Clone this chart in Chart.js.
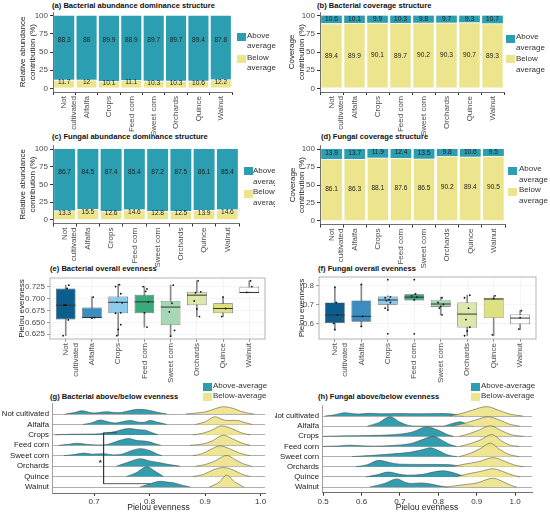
<!DOCTYPE html>
<html>
<head>
<meta charset="utf-8">
<script src="https://cdn.jsdelivr.net/npm/chart.js@4.4.1/dist/chart.umd.min.js"></script>
<style>
  body { margin: 0; width: 550px; height: 515px; position: relative; overflow: hidden; background: #fff;
         font-family: "Liberation Sans", Arial, sans-serif; }
  canvas { position: absolute; }
  .ttl { position: absolute; font-weight: bold; font-size: 7.6px; line-height: 10px; white-space: nowrap; color: #111; }
  .lg { position: absolute; font-size: 8px; line-height: 10.5px; white-space: nowrap; color: #333; }
  .sw { position: absolute; width: 8.5px; height: 8px; }
</style>
</head>
<body>

<div class="ttl" style="left:52px;top:1px">(a) Bacterial abundance dominance structure</div>
<div class="ttl" style="left:317px;top:1px">(b) Bacterial coverage structure</div>
<div class="ttl" style="left:52px;top:132px">(c) Fungal abundance dominance structure</div>
<div class="ttl" style="left:321px;top:132px">(d) Fungal coverage structure</div>
<div class="ttl" style="left:50px;top:264px">(e) Bacterial overall evenness</div>
<div class="ttl" style="left:318px;top:264px">(f) Fungal overall evenness</div>
<div class="ttl" style="left:50px;top:392px">(g) Bacterial above/below evenness</div>
<div class="ttl" style="left:318px;top:392px">(h) Fungal above/below evenness</div>

<canvas id="ca" width="275" height="135" style="left:0;top:0"></canvas>
<canvas id="cb" width="275" height="135" style="left:275px;top:0"></canvas>
<canvas id="cc" width="275" height="133" style="left:0;top:135px"></canvas>
<canvas id="cd" width="275" height="133" style="left:275px;top:135px"></canvas>
<canvas id="ce" width="275" height="115" style="left:0;top:268px"></canvas>
<canvas id="cf" width="275" height="115" style="left:275px;top:268px"></canvas>
<canvas id="cg" width="275" height="125" style="left:0;top:390px"></canvas>
<canvas id="ch" width="275" height="125" style="left:275px;top:390px"></canvas>

<!-- legends (a)-(d) -->
<div class="sw" style="left:237px;top:33px;background:#2B9EB1"></div>
<div class="lg" style="left:247px;top:30.5px">Above<br>average</div>
<div class="sw" style="left:237px;top:55px;background:#EDE58E"></div>
<div class="lg" style="left:247px;top:52.5px">Below<br>average</div>

<div class="sw" style="left:506px;top:35px;background:#2B9EB1"></div>
<div class="lg" style="left:516px;top:32px">Above<br>average</div>
<div class="sw" style="left:506px;top:55px;background:#EDE58E"></div>
<div class="lg" style="left:516px;top:54px">Below<br>average</div>

<div class="sw" style="left:244px;top:167px;background:#2B9EB1"></div>
<div class="lg" style="left:253px;top:166px;width:22px;overflow:hidden">Above<br>average</div>
<div class="sw" style="left:244px;top:190px;background:#EDE58E"></div>
<div class="lg" style="left:253px;top:187px;width:22px;overflow:hidden">Below<br>average</div>

<div class="sw" style="left:508px;top:167px;background:#2B9EB1"></div>
<div class="lg" style="left:519px;top:164px">Above<br>average</div>
<div class="sw" style="left:508px;top:188px;background:#EDE58E"></div>
<div class="lg" style="left:519px;top:185px">Below<br>average</div>

<!-- legends (g), (h) -->
<div class="sw" style="left:203px;top:383px;background:#2B9EB1"></div>
<div class="lg" style="left:213px;top:381px">Above-average</div>
<div class="sw" style="left:203px;top:393px;background:#EDE58E"></div>
<div class="lg" style="left:213px;top:391px">Below-average</div>

<div class="sw" style="left:471px;top:383px;background:#2B9EB1"></div>
<div class="lg" style="left:481px;top:381px">Above-average</div>
<div class="sw" style="left:471px;top:393px;background:#EDE58E"></div>
<div class="lg" style="left:481px;top:391px">Below-average</div>

<script>
// --- Data ---
const categories = ["Not cultivated", "Alfalfa", "Crops", "Feed corn", "Sweet corn", "Orchards", "Quince", "Walnut"];
const xTickLabels = [["Not", "cultivated"], "Alfalfa", "Crops", "Feed corn", "Sweet corn", "Orchards", "Quince", "Walnut"];
const pctTicks = [0, 25, 50, 75, 100];

// (a) bacterial abundance
const aBelow = [11.7, 12, 10.1, 11.1, 10.3, 10.3, 10.6, 12.2];
const aAbove = [88.3, 88, 89.9, 88.9, 89.7, 89.7, 89.4, 87.8];
// (b) bacterial coverage
const bBelow = [89.4, 89.9, 90.1, 89.7, 90.2, 90.3, 90.7, 89.3];
const bAbove = [10.6, 10.1, 9.9, 10.3, 9.8, 9.7, 9.3, 10.7];
// (c) fungal abundance
const cBelow = [13.3, 15.5, 12.6, 14.6, 12.8, 12.5, 13.9, 14.6];
const cAbove = [86.7, 84.5, 87.4, 85.4, 87.2, 87.5, 86.1, 85.4];
// (d) fungal coverage
const dBelow = [86.1, 86.3, 88.1, 87.6, 86.5, 90.2, 89.4, 90.5];
const dAbove = [13.9, 13.7, 11.9, 12.4, 13.5, 9.8, 10.6, 9.5];

// (e) bacterial overall evenness (box stats)
const eLow = [0.622, 0.659, 0.622, 0.640, 0.621, 0.662, 0.662, 0.7125];
const eQ1 = [0.656, 0.659, 0.669, 0.669, 0.644, 0.686, 0.669, 0.7125];
const eMed = [0.686, 0.660, 0.692, 0.693, 0.682, 0.707, 0.679, 0.7125];
const eQ3 = [0.721, 0.681, 0.704, 0.708, 0.695, 0.714, 0.690, 0.7245];
const eHigh = [0.728, 0.7035, 0.730, 0.725, 0.728, 0.737, 0.7035, 0.737];
const eTicks = [0.625, 0.65, 0.675, 0.7, 0.725];
const ePoints = [
  [[0.12, 0.728], [0.05, 0.721], [0.0, 0.686], [-0.06, 0.686], [0.1, 0.655], [-0.1, 0.622]],
  [[0.05, 0.703], [0.1, 0.66], [0.0, 0.659]],
  [[0.05, 0.729], [-0.1, 0.725], [0.1, 0.71], [-0.05, 0.692], [0.15, 0.691], [0.1, 0.67], [-0.1, 0.669], [0.1, 0.645], [0.0, 0.635], [-0.05, 0.622]],
  [[-0.05, 0.725], [0.1, 0.72], [0.05, 0.715], [0.15, 0.693], [0.0, 0.67], [0.1, 0.64]],
  [[0.1, 0.728], [0.05, 0.69], [-0.05, 0.672], [0.15, 0.633], [0.0, 0.621]],
  [[0.05, 0.737], [0.15, 0.714], [-0.05, 0.712], [-0.1, 0.695], [0.0, 0.678], [0.1, 0.662]],
  [[0.0, 0.703], [0.1, 0.679], [-0.05, 0.662]],
  [[0.05, 0.737], [0.1, 0.725], [-0.1, 0.713]]
];

// (f) fungal overall evenness (box stats)
const fLow = [0.567, 0.584, 0.670, 0.720, 0.644, 0.535, 0.535, 0.567];
const fQ1 = [0.602, 0.609, 0.698, 0.721, 0.686, 0.579, 0.628, 0.596];
const fMed = [0.644, 0.637, 0.723, 0.738, 0.702, 0.649, 0.728, 0.628];
const fQ3 = [0.7105, 0.721, 0.742, 0.753, 0.725, 0.7105, 0.735, 0.647];
const fHigh = [0.789, 0.805, 0.745, 0.755, 0.738, 0.748, 0.745, 0.667];
const fTicks = [0.6, 0.7, 0.8];
const fPoints = [
  [[0.0, 0.79], [0.05, 0.71], [0.1, 0.645], [-0.05, 0.60], [0.0, 0.567]],
  [[0.0, 0.805], [0.05, 0.637], [0.0, 0.584]],
  [[0.0, 0.83], [0.1, 0.74], [-0.1, 0.735], [0.05, 0.725], [-0.05, 0.72], [0.1, 0.71], [-0.1, 0.68], [0.0, 0.67], [0.0, 0.545]],
  [[0.0, 0.83], [0.05, 0.755], [-0.1, 0.745], [0.1, 0.738], [0.0, 0.725], [0.0, 0.545]],
  [[0.05, 0.735], [-0.1, 0.71], [0.1, 0.70], [0.0, 0.69], [-0.05, 0.68], [0.05, 0.645]],
  [[0.1, 0.748], [-0.1, 0.735], [0.05, 0.68], [-0.05, 0.62], [0.1, 0.58], [0.0, 0.56], [-0.1, 0.535]],
  [[0.05, 0.745], [0.0, 0.73], [-0.05, 0.54]],
  [[0.05, 0.667], [0.0, 0.63], [-0.05, 0.57]]
];

// (g) bacterial ridges: [evenness, density height in row units], one curve per category
const gAbove = [
  [[0.648, 0], [0.665, 0.15], [0.678, 0.32], [0.690, 0.18], [0.700, 0.1], [0.712, 0.17], [0.723, 0.22], [0.735, 0.15], [0.745, 0.13], [0.762, 0.3], [0.780, 0.45], [0.800, 0.35], [0.815, 0.15], [0.831, 0]],
  [[0.680, 0], [0.695, 0.15], [0.711, 0.42], [0.725, 0.25], [0.738, 0.13], [0.750, 0.25], [0.765, 0.39], [0.780, 0.22], [0.789, 0.2], [0.801, 0.39], [0.815, 0.2], [0.831, 0]],
  [[0.630, 0], [0.660, 0.06], [0.700, 0.08], [0.720, 0.15], [0.740, 0.35], [0.762, 0.6], [0.780, 0.5], [0.792, 0.45], [0.805, 0.2], [0.815, 0]],
  [[0.636, 0], [0.655, 0.1], [0.669, 0.19], [0.685, 0.1], [0.705, 0.03], [0.725, 0.1], [0.745, 0.45], [0.762, 0.65], [0.778, 0.45], [0.795, 0.38], [0.810, 0.15], [0.820, 0]],
  [[0.645, 0], [0.665, 0.12], [0.681, 0.25], [0.697, 0.15], [0.717, 0.2], [0.735, 0.08], [0.750, 0.15], [0.768, 0.5], [0.783, 0.68], [0.800, 0.5], [0.812, 0.2], [0.822, 0]],
  [[0.740, 0], [0.760, 0.35], [0.783, 0.71], [0.800, 0.5], [0.819, 0.32], [0.835, 0.15], [0.855, 0]],
  [[0.758, 0], [0.775, 0.35], [0.795, 0.94], [0.810, 0.5], [0.825, 0]],
  [[0.783, 0], [0.800, 0.3], [0.819, 0.55], [0.835, 0.45], [0.845, 0.38], [0.860, 0.15], [0.873, 0]]
];
const gBelow = [
  [[0.865, 0], [0.885, 0.1], [0.900, 0.2], [0.915, 0.45], [0.933, 0.7], [0.950, 0.55], [0.965, 0.25], [0.978, 0.08], [0.988, 0]],
  [[0.883, 0], [0.900, 0.25], [0.918, 0.74], [0.930, 0.5], [0.940, 0.38], [0.957, 0.39], [0.970, 0.2], [0.985, 0]],
  [[0.878, 0], [0.895, 0.15], [0.912, 0.45], [0.930, 0.87], [0.948, 0.6], [0.965, 0.2], [0.981, 0]],
  [[0.873, 0], [0.895, 0.12], [0.912, 0.4], [0.933, 0.97], [0.950, 0.6], [0.967, 0.2], [0.981, 0]],
  [[0.878, 0], [0.895, 0.2], [0.910, 0.6], [0.927, 0.94], [0.945, 0.65], [0.962, 0.25], [0.981, 0]],
  [[0.883, 0], [0.900, 0.15], [0.918, 0.5], [0.939, 1.03], [0.955, 0.6], [0.970, 0.2], [0.984, 0]],
  [[0.878, 0], [0.897, 0.2], [0.915, 0.65], [0.933, 0.87], [0.950, 0.65], [0.965, 0.25], [0.981, 0]],
  [[0.908, 0], [0.925, 0.45], [0.939, 1.13], [0.953, 0.5], [0.970, 0]]
];
const gTicks = [0.7, 0.8, 0.9, 1.0];
// significance bracket in (g): [evenness, row position]
const gBracket = [[0.741, 5.2], [0.717, 5.2], [0.717, 0.32], [0.801, 0.32]];
const gStar = [0.711, 2.5];

// (h) fungal ridges
const hAbove = [
  [[0.505, 0], [0.530, 0.12], [0.557, 0.33], [0.580, 0.22], [0.595, 0.2], [0.622, 0.27], [0.650, 0.22], [0.700, 0.25], [0.750, 0.22], [0.800, 0.25], [0.830, 0.22], [0.850, 0.12], [0.865, 0]],
  [[0.615, 0], [0.645, 0.35], [0.674, 0.93], [0.700, 0.4], [0.720, 0.1], [0.740, 0], [0.810, 0], [0.835, 0.25], [0.857, 0.43], [0.875, 0.2], [0.892, 0]],
  [[0.500, 0], [0.560, 0.05], [0.620, 0.08], [0.680, 0.15], [0.730, 0.4], [0.770, 0.93], [0.800, 0.6], [0.825, 0.15], [0.840, 0]],
  [[0.500, 0], [0.540, 0.05], [0.570, 0.13], [0.600, 0.06], [0.630, 0.03], [0.680, 0.1], [0.730, 0.3], [0.760, 0.7], [0.787, 1.0], [0.810, 0.6], [0.830, 0.2], [0.848, 0]],
  [[0.575, 0], [0.620, 0.1], [0.683, 0.27], [0.730, 0.45], [0.760, 0.7], [0.779, 0.87], [0.800, 0.6], [0.825, 0.15], [0.848, 0]],
  [[0.585, 0], [0.615, 0.2], [0.645, 0.63], [0.675, 0.4], [0.700, 0.25], [0.750, 0.23], [0.800, 0.22], [0.830, 0.2], [0.850, 0.1], [0.865, 0]],
  [[0.612, 0], [0.640, 0.2], [0.670, 0.47], [0.700, 0.25], [0.720, 0.17], [0.760, 0.25], [0.790, 0.5], [0.813, 0.6], [0.840, 0.4], [0.860, 0.15], [0.874, 0]],
  [[0.622, 0], [0.660, 0.35], [0.692, 0.8], [0.715, 0.45], [0.730, 0.35], [0.753, 0.4], [0.780, 0.3], [0.805, 0.1], [0.823, 0]]
];
const hBelow = [
  [[0.830, 0], [0.860, 0.25], [0.890, 0.6], [0.926, 0.93], [0.955, 0.6], [0.985, 0.2], [1.020, 0]],
  [[0.835, 0], [0.870, 0.3], [0.900, 0.65], [0.930, 0.93], [0.960, 0.6], [0.985, 0.2], [1.012, 0]],
  [[0.855, 0], [0.880, 0.25], [0.905, 0.6], [0.935, 1.03], [0.965, 0.55], [0.990, 0.15], [1.022, 0]],
  [[0.855, 0], [0.885, 0.3], [0.910, 0.65], [0.939, 1.17], [0.965, 0.55], [0.985, 0.15], [1.010, 0]],
  [[0.855, 0], [0.885, 0.35], [0.910, 0.8], [0.935, 1.33], [0.960, 0.7], [0.985, 0.2], [1.010, 0]],
  [[0.835, 0], [0.870, 0.27], [0.905, 0.5], [0.943, 0.9], [0.975, 0.5], [1.000, 0.15], [1.022, 0]],
  [[0.845, 0], [0.874, 0.27], [0.905, 0.5], [0.943, 0.8], [0.970, 0.5], [0.995, 0.15], [1.013, 0]],
  [[0.820, 0], [0.860, 0.2], [0.900, 0.4], [0.943, 0.87], [0.970, 0.5], [0.990, 0.15], [1.004, 0]]
];
const hTicks = [0.5, 0.6, 0.7, 0.8, 0.9, 1.0];

// --- Styles ---
const TEAL = "#2B9EB1";
const YELLOW = "#EDE58E";
const RIDGE_TEAL = "rgba(38,152,170,0.95)";
const RIDGE_YELLOW = "rgba(236,226,128,0.85)";
const boxColors = ["#0D5E8C", "#3D8CC0", "#8DCBEA", "#3AA97B", "#A7D8B5", "#DCE7AB", "#DEE17F", "#FFFFFF"];

Chart.defaults.font.family = '"Liberation Sans", Arial, sans-serif';
Chart.defaults.font.size = 8;
Chart.defaults.color = "#4d4d4d";
Chart.defaults.animation = false;
Chart.defaults.responsive = false;
Chart.defaults.plugins.legend.display = false;
Chart.defaults.plugins.tooltip.enabled = false;

// value labels inside stacked bar segments
const segLabels = {
  id: "segLabels",
  afterDatasetsDraw(chart, args, opts) {
    const ctx = chart.ctx, y = chart.scales.y;
    ctx.save();
    ctx.font = '6.6px "Liberation Sans", Arial, sans-serif';
    ctx.fillStyle = "#222";
    ctx.textAlign = "center";
    ctx.textBaseline = "middle";
    chart.data.datasets.forEach((ds, di) => {
      chart.getDatasetMeta(di).data.forEach((bar, i) => {
        const base = di === 0 ? 0 : chart.data.datasets[0].data[i];
        const pos = base + ds.data[i] * opts.fracs[di];
        ctx.fillText(String(ds.data[i]), bar.x, y.getPixelForValue(pos));
      });
    });
    ctx.restore();
  }
};

// grey panel border for the box plots
const frame = {
  id: "frame",
  afterDraw(chart) {
    const { ctx, chartArea: a } = chart;
    ctx.save();
    ctx.strokeStyle = "#a0a0a0";
    ctx.lineWidth = 0.8;
    ctx.strokeRect(a.left, a.top, a.right - a.left, a.bottom - a.top);
    ctx.restore();
  }
};

// text mark (asterisk) placed through the scales
const starMark = {
  id: "starMark",
  afterDatasetsDraw(chart, args, opts) {
    if (!opts.at) return;
    const ctx = chart.ctx;
    ctx.save();
    ctx.font = 'bold 8px "Liberation Sans", Arial, sans-serif';
    ctx.fillStyle = "#222";
    ctx.textAlign = "center";
    ctx.textBaseline = "middle";
    ctx.fillText("*", chart.scales.x.getPixelForValue(opts.at[0]), chart.scales.y.getPixelForValue(opts.at[1]) + 1.5);
    ctx.restore();
  }
};

// --- Functions ---

function barPanel(id, below, above, yTitle, box, fracs, titlePad) {
  const cv = document.getElementById(id);
  const W = cv.width, H = cv.height;
  new Chart(cv, {
    type: "bar",
    data: {
      labels: xTickLabels,
      datasets: [
        { data: below, backgroundColor: YELLOW, borderColor: "#fff", borderWidth: { top: 0.8 }, borderSkipped: false,
          categoryPercentage: 0.9, barPercentage: 1 },
        { data: above, backgroundColor: TEAL, categoryPercentage: 0.9, barPercentage: 1 }
      ]
    },
    options: {
      layout: { autoPadding: false, padding: { left: 0, right: W - box.r, top: box.t, bottom: 0 } },
      plugins: { segLabels: { fracs } },
      scales: {
        x: {
          stacked: true,
          grid: { drawOnChartArea: false, tickLength: 3, tickColor: "#333" },
          border: { color: "#333", width: 0.7 },
          ticks: { minRotation: 90, maxRotation: 90, autoSkip: false, padding: 1 },
          afterFit: s => { s.height = H - box.b; }
        },
        y: {
          stacked: true, min: -5, max: 105,
          afterBuildTicks: s => { s.ticks = pctTicks.map(v => ({ value: v })); },
          grid: { drawOnChartArea: false, tickLength: 3, tickColor: "#333" },
          border: { color: "#333", width: 0.7 },
          ticks: { padding: 2 },
          title: { display: true, text: yTitle, color: "#222", font: { size: 8 }, padding: { top: titlePad } },
          afterFit: s => { s.width = box.l; }
        }
      }
    },
    plugins: [segLabels]
  });
}

function boxPanel(id, lo, q1, med, q3, hi, pts, yr, yTicks, digits, box, titlePad) {
  const cv = document.getElementById(id);
  const W = cv.width, H = cv.height;
  const idx = categories.map((c, i) => i);
  const dots = [];
  pts.forEach((list, i) => list.forEach(([off, v]) => dots.push({ x: i + off, y: v })));
  new Chart(cv, {
    type: "bar",
    data: {
      datasets: [
        { type: "scatter", data: dots, pointRadius: 0.9, pointBackgroundColor: "#111", pointBorderWidth: 0, order: 0 },
        { type: "scatter", data: idx.map(i => ({ x: i, y: med[i] })), pointStyle: "line", pointRadius: 9.8,
          borderColor: "#333", pointBorderColor: "#333", pointBorderWidth: 1, order: 1 },
        { type: "bar", data: idx.map(i => ({ x: i, y: [q1[i], q3[i]] })), backgroundColor: boxColors,
          borderColor: "#555", borderWidth: 0.7, borderSkipped: false, grouped: false,
          categoryPercentage: 1, barPercentage: 0.75, order: 2 },
        { type: "bar", data: idx.map(i => ({ x: i, y: [lo[i], hi[i]] })), backgroundColor: "#8a8a8a",
          barThickness: 1, grouped: false, order: 3 }
      ]
    },
    options: {
      layout: { autoPadding: false, padding: { left: 0, right: W - box.r, top: box.t, bottom: 0 } },
      scales: {
        x: {
          type: "linear", min: -0.6, max: 7.6, offset: false,
          afterBuildTicks: s => { s.ticks = idx.map(v => ({ value: v })); },
          grid: { color: "#efefef", lineWidth: 0.6, offset: false, tickLength: 3, tickColor: "#555" },
          border: { display: false },
          ticks: { minRotation: 90, maxRotation: 90, autoSkip: false, padding: 1, callback: v => xTickLabels[v] },
          afterFit: s => { s.height = H - box.b; }
        },
        y: {
          min: yr[0], max: yr[1],
          afterBuildTicks: s => { s.ticks = yTicks.map(v => ({ value: v })); },
          grid: { color: "#efefef", lineWidth: 0.6, tickLength: 3, tickColor: "#555" },
          border: { display: false },
          ticks: { padding: 2, autoSkip: false, callback: v => v.toFixed(digits) },
          title: { display: true, text: "Pielou evenness", color: "#222", font: { size: 8 }, padding: { top: titlePad } },
          afterFit: s => { s.width = box.l; }
        }
      }
    },
    plugins: [frame]
  });
}

function ridgePanel(id, above, below, xr, yr, xTicks, box, bracket, star) {
  const cv = document.getElementById(id);
  const W = cv.width, H = cv.height;
  const n = categories.length;
  const datasets = [];
  categories.forEach((c, i) => {
    const base = n - 1 - i;
    datasets.push({
      data: above[i].map(p => ({ x: p[0], y: base + p[1] })),
      fill: { value: base }, backgroundColor: RIDGE_TEAL, borderColor: "#4a4a4a", borderWidth: 0.6,
      pointRadius: 0, cubicInterpolationMode: "monotone", order: base * 2 + 1
    });
    datasets.push({
      data: below[i].map(p => ({ x: p[0], y: base + p[1] })),
      fill: { value: base }, backgroundColor: RIDGE_YELLOW, borderColor: "#5a5a4a", borderWidth: 0.6,
      pointRadius: 0, cubicInterpolationMode: "monotone", order: base * 2
    });
  });
  if (bracket) {
    datasets.push({ data: bracket.map(p => ({ x: p[0], y: p[1] })), borderColor: "#333", borderWidth: 0.8,
      pointRadius: 0, fill: false, tension: 0, order: -1 });
  }
  new Chart(cv, {
    type: "line",
    data: { datasets },
    options: {
      layout: { autoPadding: false, padding: { left: 0, right: W - box.r, top: box.t, bottom: 0 } },
      plugins: { starMark: { at: star } },
      scales: {
        x: {
          type: "linear", min: xr[0], max: xr[1],
          afterBuildTicks: s => { s.ticks = xTicks.map(v => ({ value: v })); },
          grid: { drawOnChartArea: false, tickLength: 3, tickColor: "#333" },
          border: { color: "#333", width: 0.7 },
          ticks: { padding: 1, color: "#333", autoSkip: false, callback: v => v.toFixed(1) },
          title: { display: true, text: "Pielou evenness", color: "#222", font: { size: 8.5 }, padding: { top: 0, bottom: 2 } },
          afterFit: s => { s.height = H - box.b; }
        },
        y: {
          type: "linear", min: yr[0], max: yr[1],
          afterBuildTicks: s => { s.ticks = categories.map((c, i) => ({ value: i })); },
          grid: { color: "#7a7a7a", lineWidth: 0.6, drawTicks: false },
          border: { color: "#777", width: 0.7 },
          ticks: { padding: 3, autoSkip: false, color: "#1a1a1a", font: { size: 7.8 }, callback: v => categories[n - 1 - v] },
          afterFit: s => { s.width = box.l; }
        }
      }
    },
    plugins: [starMark]
  });
}

// --- Panels ---
barPanel("ca", aBelow, aAbove, ["Relative abundance", "contribution (%)"], { l: 53, r: 232, t: 12, b: 92 }, [0.72, 0.62], 18);
barPanel("cb", bBelow, bAbove, ["Coverage", "contribution (%)"], { l: 45, r: 229, t: 12, b: 92 }, [0.5, 0.55], 12);
barPanel("cc", cBelow, cAbove, ["Relative abundance", "contribution (%)"], { l: 53, r: 239, t: 10.5, b: 88.5 }, [0.72, 0.62], 18);
barPanel("cd", dBelow, dAbove, ["Coverage", "contribution (%)"], { l: 45, r: 230, t: 10.5, b: 89.5 }, [0.52, 0.6], 12.5);

boxPanel("ce", eLow, eQ1, eMed, eQ3, eHigh, ePoints, [0.615, 0.743], eTicks, 3, { l: 50, r: 265, t: 10, b: 71 }, 17);
boxPanel("cf", fLow, fQ1, fMed, fQ3, fHigh, fPoints, [0.518, 0.844], fTicks, 1, { l: 44, r: 261, t: 9, b: 71 }, 22);

ridgePanel("cg", gAbove, gBelow, [0.624, 1.008], [-0.575, 8], gTicks, { l: 52, r: 265, t: 13.6, b: 103 }, gBracket, gStar);
ridgePanel("ch", hAbove, hBelow, [0.497, 1.044], [-0.56, 8], hTicks, { l: 47, r: 257, t: 15.9, b: 102.7 }, null, null);
</script>
</body>
</html>
